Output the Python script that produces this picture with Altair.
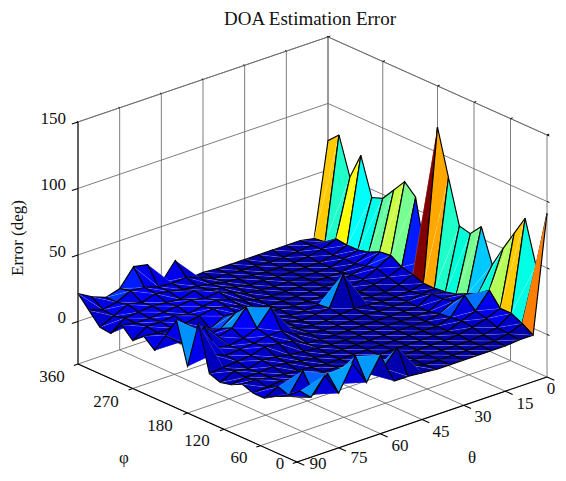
import altair as alt

phi_values = list(range(0, 361, 18))
theta_values = list(range(0, 91, 5))

t0 = [91,48,80,65,50,34,59,50,52,85,119,15,59,67,57,47,44,72,52,80,72]
t5 = [3,8,12,12,22,16,12,8,6,5,5,8,10,15,14,10,8,8,9,3,2]
t10 = [3,4,5,8,10,18,10,8,8,4,3,4,6,9,7,5,5,4,5,4,4]
t15 = [2,2,3,5,6,5,4,2,2,2,2,2,4,4,4,2,2,2,3,3,4]
t20 = [2,2,2,3,2,2,2,2,2,2,2,2,2,2,2,2,2,2,2,2,4]
t25 = [2,2,2,2,2,2,2,2,2,2,3,3,2,2,2,2,2,2,2,2,4]
t30 = [2,2,2,2,2,2,2,2,2,3,4,26,4,2,2,2,2,2,2,3,4]
t35 = [2,2,2,2,2,2,2,2,2,2,3,4,3,2,2,2,2,3,3,3,4]
t40 = [2,2,2,2,2,2,2,2,2,2,2,3,2,2,2,2,3,3,4,4,4]
t45 = [3,5,2,2,2,2,2,2,2,2,2,2,2,3,2,3,4,5,5,4,5]
t50 = [4,22,3,2,2,2,2,2,2,3,3,4,4,4,4,6,8,8,7,8,4]
t55 = [4,10,3,3,2,2,2,3,3,6,8,8,8,8,9,10,12,10,9,12,21]
t60 = [27,9,6,3,3,2,3,4,8,12,26,14,12,10,12,13,11,13,10,11,8]
t65 = [10,26,6,4,3,3,4,5,10,12,14,26,18,12,14,12,13,10,12,12,25]
t70 = [28,9,10,6,4,4,6,7,11,10,10,14,10,6,12,10,12,11,14,15,27]
t75 = [9,20,8,9,5,5,7,8,8,9,8,11,8,9,10,12,11,12,11,16,14]
t80 = [26,8,22,7,7,6,6,5,7,8,10,22,10,8,10,11,10,11,13,11,11]
t85 = [13,14,7,10,6,8,6,7,6,12,26,12,10,12,10,11,10,10,8,9,15]
t90 = [17,14,10,5,5,8,4,2,5,39,3,34,19,4,11,4,12,2,3,12,21]
error_rows = [t0,t5,t10,t15,t20,t25,t30,t35,t40,t45,t50,t55,t60,t65,t70,t75,t80,t85,t90]

z_ticks = [0, 50, 100, 150]
phi_ticks = [0, 60, 120, 180, 270, 360]
theta_ticks = [0, 15, 30, 45, 60, 75, 90]
Z_FLOOR, Z_TOP = -32, 150

jet_pos = [0, .125, .375, .625, .875, 1]
jet_col = ["#00008f", "#0000ff", "#00ffff", "#ffff00", "#ff0000", "#800000"]
C_MAX = 115


def project(phi, theta, z):
    """Fixed oblique view of the axes box; page margin is taken off."""
    b = 90 - theta
    x = 297 - 219 / 360 * phi + 250 / 90 * b
    y = 462 - 98 / 360 * phi - 85 / 90 * b - 1.33 * (z - Z_FLOOR)
    return [x - 8, y - 8]


def feat(pts, c, stroke, width, opacity=1):
    geom = {"type": "LineString", "coordinates": pts}
    return {"type": "Feature", "geometry": geom,
            "properties": {"c": c, "s": stroke, "w": width, "o": opacity}}


features = []
GRID, BLACK = "#6e6e6e", "#000000"


def seg(a, b, stroke=GRID, width=0.9):
    features.append(feat([project(*a), project(*b)], 0, stroke, width))


# walls and floor
for t in theta_ticks:
    seg((360, t, Z_FLOOR), (360, t, Z_TOP))
    seg((0, t, Z_FLOOR), (360, t, Z_FLOOR))
for p in phi_ticks:
    seg((p, 0, Z_FLOOR), (p, 0, Z_TOP))
    seg((p, 0, Z_FLOOR), (p, 90, Z_FLOOR))
for z in z_ticks + [Z_TOP]:
    seg((360, 90, z), (360, 0, z))
    seg((360, 0, z), (0, 0, z))

# surface, back to front: each cell is two triangles split along a-c
for j in range(len(phi_values) - 2, -1, -1):
    for i in range(len(theta_values) - 1):
        a = project(phi_values[j], theta_values[i], error_rows[i][j])
        b = project(phi_values[j + 1], theta_values[i], error_rows[i][j + 1])
        c = project(phi_values[j + 1], theta_values[i + 1], error_rows[i + 1][j + 1])
        d = project(phi_values[j], theta_values[i + 1], error_rows[i + 1][j])
        level = error_rows[i][j]
        features.append(feat([a, b, c], level, BLACK, 1.15))
        features.append(feat([c, d, a], level, BLACK, 1.15))
        features.append(feat([a, c], 0, "#ffffff", 0.6, 0.28))

# front axes and ticks
seg((360, 90, Z_FLOOR), (360, 90, Z_TOP), "#222222", 1.2)
seg((360, 90, Z_FLOOR), (0, 90, Z_FLOOR), BLACK, 1.1)
seg((0, 90, Z_FLOOR), (0, 0, Z_FLOOR), BLACK, 1.1)
for p in phi_ticks:
    seg((p, 90, Z_FLOOR), (p, 91.5, Z_FLOOR), BLACK, 1.1)
for t in theta_ticks:
    seg((0, t, Z_FLOOR), (-12, t, Z_FLOOR), BLACK, 1.1)
for z in z_ticks:
    seg((360, 90, z), (360, 92.2, z), BLACK, 1.1)
    seg((0, 0, z), (-4, 0, z), BLACK, 1)
for t in theta_ticks:
    seg((360, t, Z_TOP), (362, t, Z_TOP), BLACK, 1)
for p in phi_ticks:
    seg((p, 0, Z_TOP), (p, -0.8, Z_TOP), BLACK, 1)

surface = alt.Chart(alt.Data(values=features)).mark_geoshape(strokeJoin="miter").encode(
    fill=alt.Fill("properties.c:Q", legend=None,
                  scale=alt.Scale(domain=[p * C_MAX for p in jet_pos], range=jet_col, clamp=True)),
    stroke=alt.Stroke("properties.s:N", scale=None),
    strokeWidth=alt.StrokeWidth("properties.w:Q", scale=None),
    strokeOpacity=alt.StrokeOpacity("properties.o:Q", scale=None),
).project(type="identity", scale=1, translate=[0, 0])

z_labels = [{"t": str(z), "x": 66 - 8, "y": project(360, 90, z)[1] - 3} for z in z_ticks]
phi_offset = {360: (52, 377), 270: (106, 402), 180: (160, 426), 120: (197, 441), 60: (239, 458), 0: (280, 464)}
theta_offset = {0: (551, 389), 15: (525, 404), 30: (483, 417), 45: (441, 432), 60: (400, 446), 75: (359, 458), 90: (318, 464)}
center_labels = [{"t": str(k), "x": v[0] - 8, "y": v[1] - 8} for k, v in phi_offset.items()]
center_labels += [{"t": str(k), "x": v[0] - 8, "y": v[1] - 8} for k, v in theta_offset.items()]
center_labels += [{"t": "φ", "x": 124 - 8, "y": 458 - 8}, {"t": "θ", "x": 472 - 8, "y": 458 - 8}]

font = "Liberation Serif"
X = alt.X("x:Q", scale=None, axis=None)
Y = alt.Y("y:Q", scale=None, axis=None)
right_text = alt.Chart(alt.Data(values=z_labels)).mark_text(
    font=font, fontSize=17, align="right", baseline="middle", color="#111111"
).encode(x=X, y=Y, text="t:N")
center_text = alt.Chart(alt.Data(values=center_labels)).mark_text(
    font=font, fontSize=17, align="center", baseline="middle", color="#111111"
).encode(x=X, y=Y, text="t:N")
title_text = alt.Chart(alt.Data(values=[{"t": "DOA Estimation Error", "x": 310 - 8, "y": 19 - 8}])).mark_text(
    font=font, fontSize=19, align="center", baseline="middle", color="#111111"
).encode(x=X, y=Y, text="t:N")
ylab_text = alt.Chart(alt.Data(values=[{"t": "Error (deg)", "x": 18 - 8, "y": 238 - 8}])).mark_text(
    font=font, fontSize=17, align="center", baseline="middle", angle=270, color="#111111"
).encode(x=X, y=Y, text="t:N")

chart = alt.layer(surface, right_text, center_text, title_text, ylab_text).properties(
    width=550, height=465, padding=0, autosize="none", background="white"
).configure_view(stroke=None)

chart.save("out.html", embed_options={"renderer": "svg", "actions": False})
